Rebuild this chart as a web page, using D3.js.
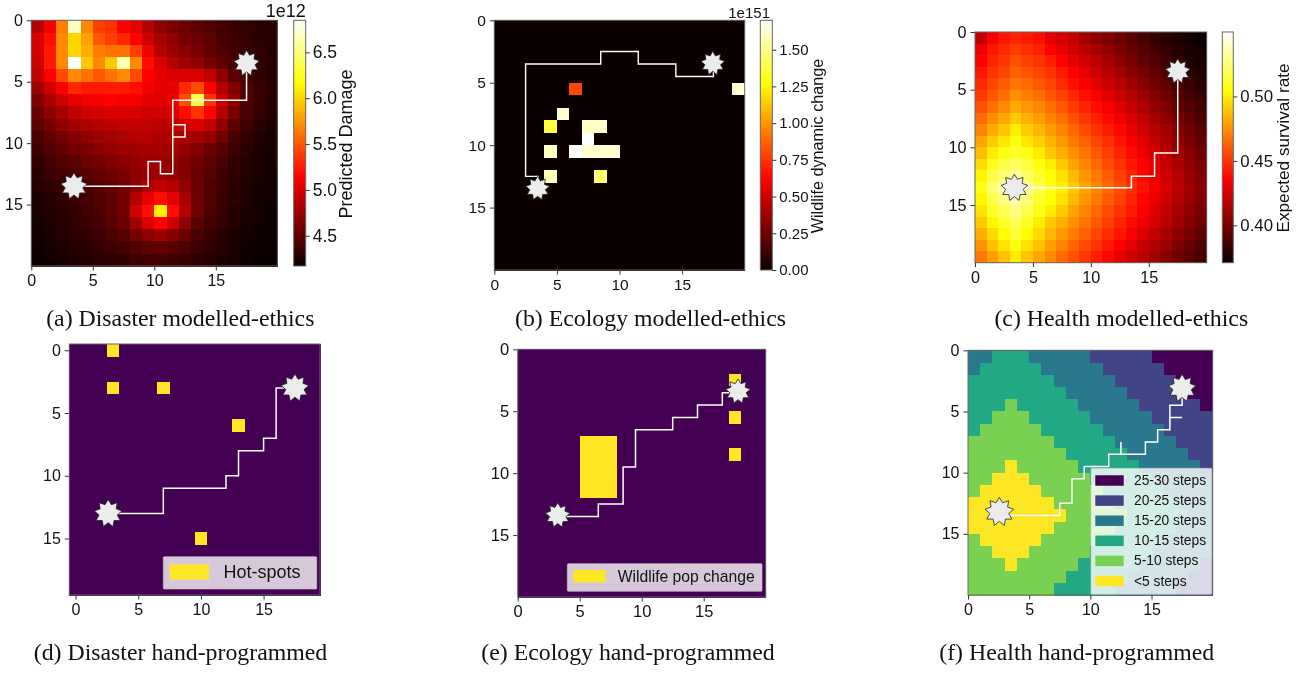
<!DOCTYPE html>
<html><head><meta charset="utf-8">
<style>
html,body{margin:0;padding:0;background:#fff}
svg{display:block;filter:blur(0.35px)}
text{font-family:"Liberation Sans",Arial,sans-serif;fill:#111}
.cap{font-family:"Liberation Serif","Times New Roman",serif}
</style>
<script src="https://cdn.jsdelivr.net/npm/d3@7/dist/d3.min.js"></script>
</head><body><svg id="c" width="1302" height="673"></svg>
<script>
// ---------- DATA ----------
const disasterDamage = [
[4.85,5.10,5.65,6.70,5.70,5.40,5.35,5.15,5.05,4.85,4.70,4.62,4.55,4.50,4.45,4.40,4.35,4.32,4.30,4.28],
[5.00,5.20,5.70,6.00,5.80,5.50,5.40,5.30,5.15,4.95,4.80,4.70,4.60,4.55,4.50,4.42,4.38,4.34,4.30,4.28],
[5.00,5.25,5.70,6.00,5.85,5.65,5.60,5.60,5.40,5.10,4.85,4.75,4.68,4.60,4.52,4.45,4.40,4.35,4.32,4.28],
[4.95,5.25,5.70,6.85,5.95,5.70,5.95,6.65,5.70,5.20,5.00,4.85,4.75,4.70,4.60,4.50,4.42,4.38,4.33,4.28],
[4.90,5.15,5.45,5.70,5.60,5.50,5.60,5.70,5.45,5.15,5.05,5.00,5.00,5.00,4.90,4.70,4.50,4.40,4.33,4.28],
[4.75,4.95,5.15,5.30,5.25,5.25,5.25,5.25,5.20,5.10,5.05,5.05,5.30,5.45,5.15,4.85,4.65,4.45,4.35,4.30],
[4.65,4.80,4.95,5.05,5.10,5.12,5.15,5.12,5.12,5.05,5.02,5.10,5.45,6.35,5.35,4.95,4.70,4.45,4.35,4.28],
[4.55,4.70,4.80,4.90,4.95,4.98,5.00,5.00,5.00,4.95,4.95,5.00,5.20,5.35,5.15,4.85,4.60,4.42,4.33,4.27],
[4.50,4.60,4.70,4.78,4.82,4.85,4.88,4.90,4.90,4.90,4.88,4.90,4.98,5.00,4.90,4.70,4.50,4.38,4.30,4.25],
[4.42,4.52,4.58,4.65,4.70,4.75,4.78,4.82,4.85,4.85,4.82,4.85,4.82,4.78,4.72,4.58,4.42,4.33,4.27,4.22],
[4.38,4.45,4.52,4.58,4.62,4.68,4.72,4.75,4.78,4.80,4.78,4.78,4.72,4.65,4.55,4.47,4.37,4.30,4.25,4.22],
[4.33,4.40,4.45,4.50,4.55,4.60,4.65,4.68,4.72,4.75,4.75,4.72,4.65,4.58,4.50,4.42,4.33,4.28,4.24,4.21],
[4.30,4.35,4.40,4.43,4.48,4.52,4.57,4.62,4.70,4.75,4.78,4.72,4.65,4.55,4.47,4.38,4.32,4.27,4.23,4.20],
[4.27,4.32,4.35,4.38,4.42,4.48,4.52,4.58,4.70,4.85,4.90,4.85,4.70,4.55,4.45,4.38,4.30,4.26,4.22,4.20],
[4.25,4.28,4.32,4.35,4.40,4.45,4.50,4.58,4.85,5.05,5.20,5.05,4.80,4.58,4.45,4.36,4.30,4.25,4.21,4.19],
[4.24,4.27,4.30,4.33,4.38,4.43,4.50,4.60,4.95,5.20,6.10,5.20,4.85,4.58,4.43,4.35,4.28,4.24,4.20,4.18],
[4.22,4.25,4.28,4.32,4.36,4.40,4.47,4.55,4.78,5.00,5.15,4.95,4.70,4.50,4.40,4.33,4.27,4.22,4.20,4.18],
[4.21,4.23,4.27,4.30,4.33,4.37,4.42,4.47,4.60,4.70,4.75,4.68,4.55,4.42,4.36,4.30,4.25,4.21,4.19,4.18],
[4.20,4.22,4.25,4.28,4.30,4.33,4.37,4.40,4.45,4.50,4.52,4.48,4.43,4.37,4.32,4.27,4.23,4.20,4.18,4.17],
[4.18,4.20,4.22,4.25,4.28,4.30,4.32,4.33,4.37,4.40,4.40,4.38,4.35,4.32,4.28,4.25,4.22,4.19,4.17,4.17]];

const healthSurvival = [
[.420,.435,.442,.446,.443,.440,.430,.425,.420,.412,.407,.402,.397,.392,.387,.382,.379,.376,.373,.371],
[.432,.442,.447,.452,.449,.445,.437,.430,.424,.418,.412,.407,.401,.396,.391,.386,.382,.378,.375,.373],
[.437,.446,.451,.458,.454,.450,.445,.437,.430,.424,.418,.412,.406,.400,.395,.390,.385,.381,.377,.375],
[.442,.450,.455,.462,.459,.455,.450,.443,.436,.429,.423,.417,.411,.405,.400,.394,.389,.385,.380,.377],
[.447,.455,.461,.468,.465,.460,.455,.448,.441,.435,.429,.423,.417,.411,.405,.399,.393,.388,.383,.379],
[.452,.460,.466,.475,.470,.466,.460,.454,.447,.440,.435,.429,.423,.416,.410,.404,.397,.392,.386,.382],
[.458,.466,.473,.482,.477,.472,.466,.460,.452,.446,.440,.434,.428,.421,.415,.408,.402,.396,.390,.386],
[.465,.474,.481,.490,.484,.478,.472,.466,.458,.451,.445,.439,.433,.426,.420,.413,.406,.400,.394,.389],
[.472,.482,.489,.500,.491,.485,.478,.472,.464,.457,.450,.444,.438,.431,.424,.417,.411,.404,.398,.392],
[.480,.491,.498,.507,.498,.492,.484,.477,.469,.462,.455,.449,.442,.435,.428,.421,.414,.408,.401,.395],
[.487,.500,.508,.512,.508,.500,.490,.483,.475,.467,.460,.453,.446,.439,.432,.425,.418,.411,.404,.398],
[.495,.510,.517,.522,.516,.507,.500,.490,.480,.472,.465,.457,.450,.443,.436,.429,.421,.414,.407,.401],
[.502,.517,.525,.532,.523,.513,.505,.497,.486,.477,.469,.461,.454,.446,.438,.431,.424,.416,.409,.403],
[.508,.525,.535,.545,.532,.518,.508,.500,.490,.480,.472,.464,.456,.449,.441,.434,.426,.418,.411,.405],
[.503,.518,.528,.536,.526,.513,.505,.497,.486,.477,.469,.461,.454,.446,.438,.431,.424,.416,.409,.403],
[.497,.511,.520,.528,.519,.508,.500,.490,.480,.472,.464,.457,.450,.443,.436,.428,.420,.413,.407,.401],
[.490,.503,.512,.520,.511,.500,.490,.483,.475,.467,.460,.453,.446,.439,.432,.425,.417,.410,.404,.398],
[.483,.495,.504,.514,.504,.495,.485,.477,.470,.462,.455,.448,.442,.435,.427,.420,.413,.406,.400,.394],
[.475,.488,.497,.507,.497,.488,.479,.471,.463,.456,.450,.443,.436,.429,.422,.415,.409,.402,.396,.390],
[.468,.478,.488,.500,.489,.481,.473,.465,.458,.451,.444,.438,.431,.424,.417,.411,.404,.398,.392,.387]];

// row, col, value (everything else is 0)
const ecologyCells = [[5,6,0.80],[5,19,1.62],[7,5,1.62],[8,4,1.38],[8,7,1.60],[8,8,1.60],[9,7,1.70],
 [10,4,1.60],[10,6,1.70],[10,7,1.62],[10,8,1.62],[10,9,1.62],[12,4,1.58],[12,8,1.45]];

const healthSteps = [
[3,3,2,2,2,3,3,3,3,3,4,4,4,4,4,5,5,5,5,5],
[3,2,2,2,2,2,3,3,3,3,3,4,4,4,4,4,5,5,5,5],
[2,2,2,2,2,2,2,3,3,3,3,3,4,4,4,4,4,5,5,5],
[2,2,2,2,2,2,2,2,3,3,3,3,3,4,4,4,4,4,5,5],
[2,2,2,1,2,2,2,2,2,3,3,3,3,3,4,4,4,4,4,5],
[2,2,1,1,1,2,2,2,2,2,3,3,3,3,3,4,4,4,4,4],
[2,1,1,1,1,1,2,2,2,2,2,3,3,3,3,3,4,4,4,4],
[1,1,1,1,1,1,1,2,2,2,2,2,3,3,3,3,3,4,4,4],
[1,1,1,1,1,1,1,1,2,2,2,2,2,3,3,3,3,3,4,4],
[1,1,1,0,1,1,1,1,1,2,2,2,2,2,3,3,3,3,3,4],
[1,1,0,0,0,1,1,1,1,1,2,2,2,2,2,3,3,3,3,3],
[1,0,0,0,0,0,1,1,1,1,1,2,2,2,2,2,3,3,3,3],
[0,0,0,0,0,0,0,1,1,1,1,1,2,2,2,2,2,3,3,3],
[0,0,0,0,0,0,0,0,1,1,1,1,1,2,2,2,2,2,3,3],
[0,0,0,0,0,0,0,1,1,1,1,1,2,2,2,2,2,3,3,3],
[1,0,0,0,0,0,1,1,1,1,1,2,2,2,2,2,3,3,3,3],
[1,1,0,0,0,1,1,1,1,1,2,2,2,2,2,3,3,3,3,3],
[1,1,1,0,1,1,1,1,1,2,2,2,2,2,3,3,3,3,3,4],
[1,1,1,1,1,1,1,1,2,2,2,2,2,3,3,3,3,3,4,4],
[1,1,1,1,1,1,1,2,2,2,2,2,3,3,3,3,3,4,4,4]];

const disasterHotspots = [[0,3],[3,3],[3,7],[6,13],[15,10]];     // row, col
const ecologyPatches = [[7,12,5,8],[2,3,17,18],[5,6,17,18],[8,9,17,18]]; // row0,row1,col0,col1

const pathA = [[17.5,3.5],[17.5,6.5],[11.5,6.5],[11.5,8.5],[12.5,8.5],[12.5,9.5],[11.5,9.5],[11.5,8.5],[11.5,12.5],[10.5,12.5],[10.5,11.5],[9.5,11.5],[9.5,13.5],[3.5,13.5]];
const pathB = [[17.5,3.5],[17.5,4.5],[14.5,4.5],[14.5,3.5],[11.5,3.5],[11.5,2.5],[8.5,2.5],[8.5,3.5],[2.5,3.5],[2.5,12.5],[3.5,12.5],[3.5,13.5]];
const pathC = [[17.5,3.5],[17.5,10.5],[15.5,10.5],[15.5,12.5],[13.5,12.5],[13.5,13.5],[3.5,13.5]];
const pathD = [[17.5,3],[16,3],[16,7],[15,7],[15,8],[13,8],[13,10],[12,10],[12,11],[7,11],[7,13],[2.6,13]];
const pathE = [[17.75,3.5],[16.5,3.5],[16.5,4.5],[14.5,4.5],[14.5,5.5],[12.5,5.5],[12.5,6.5],[9.5,6.5],[9.5,9.5],[8.5,9.5],[8.5,12.5],[6.5,12.5],[6.5,13.5],[3.2,13.5]];
const pathF = [[17.5,3.5],[17.5,4.5],[16.5,4.5],[16.5,5.5],[17.5,5.5],[16.5,5.5],[16.5,6.5],[15.5,6.5],[15.5,7.5],[14.5,7.5],[14.5,8.5],[12.5,8.5],[12.5,7.5],[12.5,8.5],[11.5,8.5],[11.5,9.5],[9.5,9.5],[9.5,10.5],[8.5,10.5],[8.5,12.5],[7.5,12.5],[7.5,13.5],[2.6,13.5]];

const starsA = [[17.5,3.5],[3.47,13.5]];
const starsB = [[17.45,3.45],[3.46,13.46]];
const starsC = [[17.5,3.4],[3.4,13.5]];
const starsD = [[17.5,3],[2.6,13]];
const starsE = [[17.77,3.4],[3.23,13.4]];
const starsF = [[17.5,3.1],[2.56,13.2]];

const stepLabels = ["25-30 steps","20-25 steps","15-20 steps","10-15 steps","5-10 steps","<5 steps"];
const stepColors = ["#440154","#414487","#2a788e","#22a884","#7ad151","#fde725"];
const stepClassColors = ["#fde725","#7ad151","#22a884","#2a788e","#414487","#440154"];
const hotStops = ["#0b0000","#ff0000","#ffff00","#ffffff"];
const hotStopAt = [0,0.365,0.746,1];
const ticksXY = [0,5,10,15];
const cbTicksA = [4.5,5.0,5.5,6.0,6.5];
const cbTicksB = [0,0.25,0.5,0.75,1.0,1.25,1.5];
const cbTicksC = [0.40,0.45,0.50];

// ---------- LAYOUT ----------
const svg = d3.select("#c");
const hot = d3.scaleLinear().domain(hotStopAt).range(hotStops).clamp(true);
const purple="#440154", gold="#fde725";
const defs = svg.append("defs");
const g0 = defs.append("linearGradient").attr("id","hotGrad").attr("x1",0).attr("x2",0).attr("y1",1).attr("y2",0);
hotStopAt.forEach((o,i)=>g0.append("stop").attr("offset",o).attr("stop-color",hotStops[i]));

function panel(box, dom, fs){
  const x = d3.scaleLinear().domain(dom).range([box.x0,box.x1]);
  const y = d3.scaleLinear().domain(dom).range([box.y0,box.y1]);
  const g = svg.append("g");
  return {x,y,g,box,fs};
}
function frame(p){
  const {x,y,g,box,fs}=p;
  const ax=g.append("g").attr("transform",`translate(0,${box.y1})`).call(d3.axisBottom(x).tickValues(ticksXY).tickSize(4.5).tickPadding(4).tickFormat(d3.format("d")));
  const ay=g.append("g").attr("transform",`translate(${box.x0},0)`).call(d3.axisLeft(y).tickValues(ticksXY).tickSize(4.5).tickPadding(4).tickFormat(d3.format("d")));
  [ax,ay].forEach(a=>{a.select(".domain").remove();a.selectAll("line").attr("stroke","#333");
    a.selectAll("text").style("font-size",fs+"px").attr("fill","#111");});
  g.append("rect").attr("x",box.x0).attr("y",box.y0).attr("width",box.x1-box.x0).attr("height",box.y1-box.y0)
    .attr("fill","none").attr("stroke","#666").attr("stroke-width",1);
}
function cells(p, data, color, off){
  const flat=[]; data.forEach((row,r)=>row.forEach((v,c)=>flat.push({r,c,v})));
  p.g.append("g").attr("shape-rendering","crispEdges").selectAll("rect").data(flat).join("rect")
   .attr("x",d=>p.x(d.c+off)).attr("y",d=>p.y(d.r+off))
   .attr("width",d=>p.x(d.c+off+1)-p.x(d.c+off)+0.5).attr("height",d=>p.y(d.r+off+1)-p.y(d.r+off)+0.5)
   .attr("fill",d=>color(d.v));
}
function route(p, pts, w){
  p.g.append("path").datum(pts)
   .attr("d",d3.line().x(d=>p.x(d[0])).y(d=>p.y(d[1])))
   .attr("fill","none").attr("stroke","#fff").attr("stroke-width",w||1.5).attr("stroke-linejoin","miter");
}
function star(p, pt, R){
  const n=9, pts=d3.range(n*2).map(i=>[i*Math.PI/n,(i%2?R*0.66:R)]);
  p.g.append("path").attr("transform",`translate(${p.x(pt[0])},${p.y(pt[1])})`)
   .attr("d",d3.lineRadial().curve(d3.curveLinearClosed)(pts))
   .attr("fill","#ececec").attr("stroke","#222").attr("stroke-width",0.8);
}
function colorbar(box, dom, ticks, fmt, label, lx, ly, fs, lfs, exp){
  const s=d3.scaleLinear().domain(dom).range([box.y1,box.y0]);
  const g=svg.append("g");
  g.append("rect").attr("x",box.x0).attr("y",box.y0).attr("width",box.x1-box.x0).attr("height",box.y1-box.y0)
    .attr("fill","url(#hotGrad)").attr("stroke","#666").attr("stroke-width",1);
  const a=g.append("g").attr("transform",`translate(${box.x1},0)`).call(d3.axisRight(s).tickValues(ticks).tickSize(4).tickPadding(3).tickFormat(d3.format(fmt)));
  a.select(".domain").remove(); a.selectAll("line").attr("stroke","#333");
  a.selectAll("text").style("font-size",fs+"px").attr("fill","#111");
  g.append("text").attr("transform",`translate(${lx},${ly}) rotate(-90)`).attr("text-anchor","middle")
   .attr("dominant-baseline","middle").style("font-size",lfs+"px").text(label);
  if(exp) g.append("text").attr("x",exp.x).attr("y",exp.y).attr("text-anchor","end").style("font-size",exp.fs+"px").text(exp.t);
}
function caption(t,x,y){
  svg.append("text").attr("class","cap").attr("x",x).attr("y",y).attr("text-anchor","middle").style("font-size","23.8px").text(t);
}
function legend(p, b, items, fs, alpha){
  const g=svg.append("g");
  g.append("rect").attr("x",b.x0).attr("y",b.y0).attr("width",b.x1-b.x0).attr("height",b.y1-b.y0).attr("rx",1)
    .attr("fill","#fff").attr("fill-opacity",alpha).attr("stroke","#ccc").attr("stroke-opacity",.6);
  items.forEach((it,i)=>{
    const yc=b.first+i*b.step;
    g.append("rect").attr("x",b.px0).attr("y",yc-b.ph/2).attr("width",b.px1-b.px0).attr("height",b.ph).attr("fill",it.c);
    g.append("text").attr("x",b.tx).attr("y",yc).attr("dominant-baseline","central").style("font-size",fs+"px").attr("fill","#222").text(it.l);
  });
}

// (a)
const pa=panel({x0:31.3,x1:277.3,y0:20.3,y1:266},[0,20],16);
const scaleA=d3.scaleLinear().domain([4.17,6.85]).range([0,1]);
cells(pa,disasterDamage,v=>hot(scaleA(v)),0); route(pa,pathA,1.5); frame(pa);
star(pa,starsA[0],13); star(pa,starsA[1],13.5);
colorbar({x0:293.7,x1:305.7,y0:20.3,y1:266},[4.17,6.85],cbTicksA,".1f","Predicted Damage",347,144,17.5,18,{t:"1e12",x:305.7,y:17,fs:18});
caption("(a) Disaster modelled-ethics",180.3,326);

// (b)
const pb=panel({x0:494.3,x1:744.7,y0:20.3,y1:270},[0,20],15.5);
const scaleB=d3.scaleLinear().domain([0,1.70]).range([0,1]);
const zeroB=d3.range(20).map(()=>d3.range(20).map(()=>0));
ecologyCells.forEach(([r,c,v])=>{zeroB[r][c]=v;});
cells(pb,zeroB,v=>hot(scaleB(v)),0); route(pb,pathB,1.4); frame(pb);
star(pb,starsB[0],12); star(pb,starsB[1],12);
colorbar({x0:760.3,x1:772.3,y0:20.3,y1:270},[0,1.70],cbTicksB,".2f","Wildlife dynamic change",819,146,15,16.2,{t:"1e151",x:770,y:17.5,fs:15});
caption("(b) Ecology modelled-ethics",650.5,326);

// (c)
const pc=panel({x0:975,x1:1206.7,y0:32,y1:262.7},[0,20],16.2);
const scaleC=d3.scaleLinear().domain([0.371,0.55]).range([0,1]);
cells(pc,healthSurvival,v=>hot(scaleC(v)),0); route(pc,pathC,1.5); frame(pc);
star(pc,starsC[0],12.5); star(pc,starsC[1],13.5);
colorbar({x0:1222.3,x1:1233.3,y0:32,y1:262.7},[0.371,0.55],cbTicksC,".2f","Expected survival rate",1284,148,16.8,17.2);
caption("(c) Health modelled-ethics",1121.3,326);

// (d)
const pd=panel({x0:69.3,x1:320,y0:344,y1:595},[-0.5,19.5],16);
const zeroD=d3.range(20).map(()=>d3.range(20).map(()=>0));
disasterHotspots.forEach(([r,c])=>{zeroD[r][c]=1;});
cells(pd,zeroD,v=>v?gold:purple,-0.5); route(pd,pathD,1.5); frame(pd);
star(pd,starsD[0],14); star(pd,starsD[1],14);
legend(pd,{x0:163.3,x1:316.7,y0:556.7,y1:589,first:572,step:0,px0:169.7,px1:209,ph:15,tx:223.5},[{l:"Hot-spots",c:gold}],18,0.78);
caption("(d) Disaster hand-programmed",180.5,660);

// (e)
const pe=panel({x0:517.7,x1:765.7,y0:349.3,y1:597},[0,20],16.5);
const zeroE=d3.range(20).map(()=>d3.range(20).map(()=>0));
ecologyPatches.forEach(([r0,r1,c0,c1])=>{d3.range(r0,r1).forEach(r=>d3.range(c0,c1).forEach(c=>{zeroE[r][c]=1;}));});
cells(pe,zeroE,v=>v?gold:purple,0); route(pe,pathE,1.5); frame(pe);
star(pe,starsE[0],12.5); star(pe,starsE[1],12.5);
legend(pe,{x0:567.3,x1:762,y0:563.7,y1:591.3,first:576.2,step:0,px0:573.3,px1:605.7,ph:12.5,tx:617.7},[{l:"Wildlife pop change",c:gold}],15.7,0.78);
caption("(e) Ecology hand-programmed",628,660);

// (f)
const pf=panel({x0:968,x1:1212.7,y0:350.3,y1:595},[0,20],16);
cells(pf,healthSteps,v=>stepClassColors[v],0); route(pf,pathF,1.5); frame(pf);
star(pf,starsF[0],14); star(pf,starsF[1],14.5);
legend(pf,{x0:1091,x1:1211.7,y0:468.3,y1:594.3,first:480.5,step:20.1,px0:1095.3,px1:1123.7,ph:10.5,tx:1134},stepLabels.map((l,i)=>({l,c:stepColors[i]})),13.8,0.8);
caption("(f) Health hand-programmed",1076.7,660);
</script></body></html>
